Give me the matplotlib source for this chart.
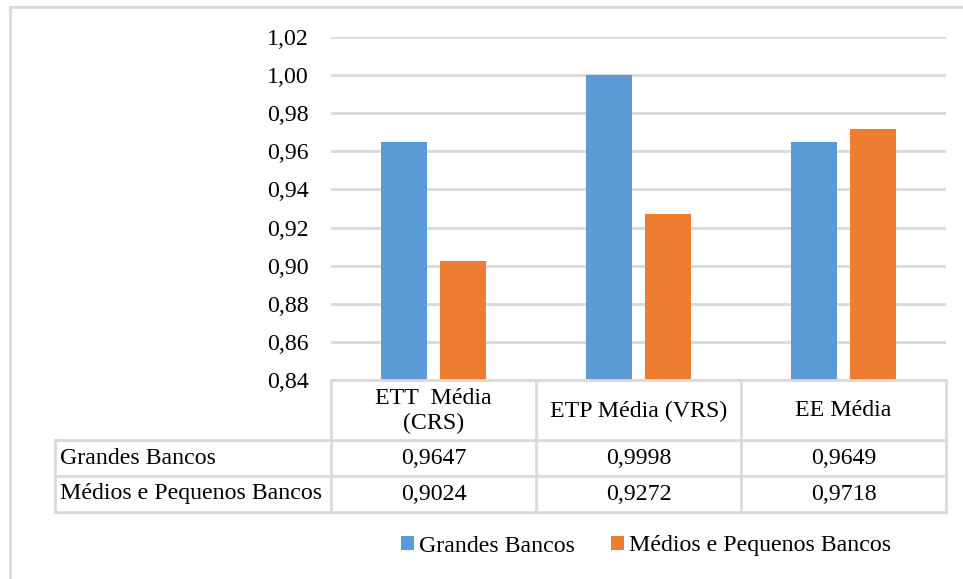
import matplotlib
matplotlib.use("Agg")
import matplotlib.pyplot as plt
import matplotlib.ticker as mtick
from matplotlib.patches import Patch
from matplotlib.lines import Line2D
import numpy as np

categories = ["ETT  Média\n(CRS)", "ETP Média (VRS)", "EE Média"]
series_names = ["Grandes Bancos", "Médios e Pequenos Bancos"]
grandes = [0.9647, 0.9998, 0.9649]
medios = [0.9024, 0.9272, 0.9718]
y_ticks = [0.84, 0.86, 0.88, 0.90, 0.92, 0.94, 0.96, 0.98, 1.00, 1.02]

BLUE = "#5B9BD5"
ORANGE = "#ED7D31"
GRID = "#D9D9D9"
TEXT = "#000000"
FAMILY = "Liberation Serif"
FS = 17.2

W, H = 963, 579
plt.rcParams["font.family"] = FAMILY

fig = plt.figure(figsize=(W / 100, H / 100), dpi=100, facecolor="white")


def fx(px):
    return px / W


def fy(py):
    return 1 - py / H


def label(xp, yp, s, ha="center"):
    fig.text(fx(xp), fy(yp), s, ha=ha, va="center", fontsize=FS, color=TEXT,
             family=FAMILY, linespacing=1.2)


# plot area, measured in pixels
AX_L, AX_R, AX_T, AX_B = 331, 946, 37, 380
ax = fig.add_axes([fx(AX_L), fy(AX_B), fx(AX_R - AX_L), (AX_B - AX_T) / H])

x = np.arange(len(categories))
w = 0.225
off = 0.145
ax.bar(x - off, grandes, w, color=BLUE, zorder=3)
ax.bar(x + off, medios, w, color=ORANGE, zorder=3)

ax.set_xlim(-0.5, len(categories) - 0.5)
ax.set_ylim(y_ticks[0], y_ticks[-1])
ax.set_yticks(y_ticks)
ax.yaxis.set_major_formatter(mtick.FuncFormatter(lambda v, _: f"{v:.2f}".replace(".", ",")))
ax.set_xticks([])
ax.tick_params(axis="y", length=0, pad=16, labelsize=FS, labelcolor=TEXT)
for t in ax.get_yticklabels():
    t.set_family(FAMILY)
ax.grid(axis="y", color=GRID, linewidth=2, zorder=0)
for s in ax.spines.values():
    s.set_visible(False)

# outer chart frame
fig.add_artist(Line2D([fx(10), fx(10)], [fy(7), 0], transform=fig.transFigure, color=GRID, lw=2))
fig.add_artist(Line2D([fx(10), 1], [fy(7), fy(7)], transform=fig.transFigure, color=GRID, lw=2))

# data table under the axis
col_edges = [AX_L + i * (AX_R - AX_L) / len(categories) for i in range(len(categories) + 1)]
ROW_Y = [380, 440, 476, 512]
TBL_L = 55


def hline(x0, x1, y):
    fig.add_artist(Line2D([fx(x0), fx(x1)], [fy(y), fy(y)], transform=fig.transFigure, color=GRID, lw=2))


def vline(xp, y0, y1):
    fig.add_artist(Line2D([fx(xp), fx(xp)], [fy(y0), fy(y1)], transform=fig.transFigure, color=GRID, lw=2))


hline(AX_L, AX_R, ROW_Y[0])
for yy in ROW_Y[1:]:
    hline(TBL_L, AX_R, yy)
for xe in col_edges:
    vline(xe, ROW_Y[0], ROW_Y[-1])
vline(TBL_L, ROW_Y[1], ROW_Y[-1])

for i, cat in enumerate(categories):
    cx = (col_edges[i] + col_edges[i + 1]) / 2
    label(cx, (ROW_Y[0] + ROW_Y[1]) / 2 + 1, cat)

rows = [grandes, medios]
for r, (name, vals) in enumerate(zip(series_names, rows)):
    cy = (ROW_Y[r + 1] + ROW_Y[r + 2]) / 2
    label(60, cy, name, ha="left")
    for i, v in enumerate(vals):
        cx = (col_edges[i] + col_edges[i + 1]) / 2
        label(cx, cy, f"{v:.4f}".replace(".", ","))

handles = [Patch(facecolor=BLUE, label=series_names[0]),
           Patch(facecolor=ORANGE, label=series_names[1])]
fig.legend(handles=handles, loc="center", bbox_to_anchor=(fx(646), fy(546)), ncol=2,
           frameon=False, prop={"family": FAMILY, "size": FS},
           handlelength=0.55, handleheight=0.55,
           handletextpad=0.2, columnspacing=1.5, borderpad=0)

fig.savefig("out.png", dpi=100, facecolor="white")
